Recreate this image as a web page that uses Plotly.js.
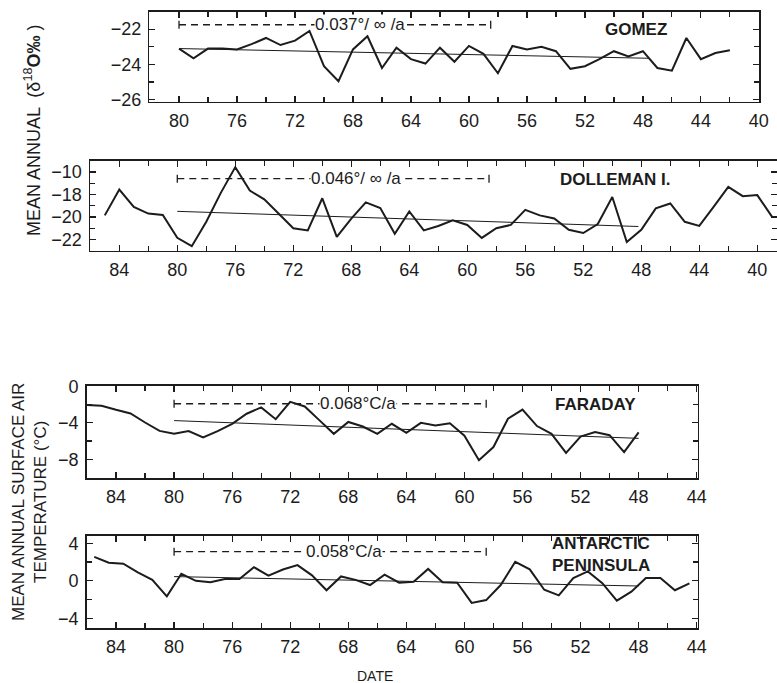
<!DOCTYPE html>
<html>
<head>
<meta charset="utf-8">
<script src="https://cdn.plot.ly/plotly-3.0.1.min.js"></script>
<style>
  html, body { margin: 0; padding: 0; background: #ffffff; }
  #chart { width: 777px; height: 683px; }
</style>
</head>
<body>
<div id="chart"></div>
<script>
// ---------------- DATA ----------------
// Years are 19xx, axis runs from recent (left) to older (right)
const gomezYears = [80,79,78,77,76,75,74,73,72,71,70,69,68,67,66,65,64,63,62,61,60,59,58,57,56,55,54,53,52,51,50,49,48,47,46,45,44,43,42];
const gomezValues = [-23.1,-23.65,-23.1,-23.1,-23.15,-22.85,-22.5,-22.9,-22.65,-22.1,-24.1,-24.95,-23.15,-22.4,-24.2,-23.05,-23.7,-23.95,-23.05,-23.85,-22.95,-23.4,-24.5,-22.95,-23.15,-23.0,-23.25,-24.25,-24.1,-23.7,-23.25,-23.55,-23.25,-24.2,-24.35,-22.5,-23.7,-23.35,-23.2];
const gomezTrendYears = [80, 47.6];
const gomezTrendValues = [-23.1, -23.65];

const dollemanYears = [85,84,83,82,81,80,79,78,77,76,75,74,73,72,71,70,69,68,67,66,65,64,63,62,61,60,59,58,57,56,55,54,53,52,51,50,49,48,47,46,45,44,43,42,41,40,39];
const dollemanValues = [-19.86,-17.57,-19.1,-19.7,-19.83,-21.86,-22.6,-20.43,-17.86,-15.57,-17.66,-18.43,-19.71,-21.0,-21.2,-18.34,-21.77,-20.14,-18.71,-19.2,-21.49,-19.51,-21.2,-20.8,-20.29,-20.71,-21.86,-21.0,-20.71,-19.37,-19.86,-20.14,-21.14,-21.43,-20.63,-18.23,-22.23,-21.14,-19.24,-18.8,-20.43,-20.8,-19.09,-17.32,-18.15,-18.06,-19.95];
const dollemanTrendYears = [80, 48.2];
const dollemanTrendValues = [-19.5, -20.85];

const faradayYears = [86,85,84,83,82,81,80,79,78,77,76,75,74,73,72,71,70,69,68,67,66,65,64,63,62,61,60,59,58,57,56,55,54,53,52,51,50,49,48];
const faradayValues = [-2.05,-2.13,-2.57,-2.97,-3.96,-4.88,-5.2,-4.9,-5.6,-4.9,-4.1,-3.0,-2.3,-3.6,-1.7,-2.2,-3.7,-5.2,-3.9,-4.4,-5.2,-4.1,-5.1,-4.0,-4.3,-4.05,-5.4,-8.1,-6.65,-3.55,-2.55,-4.35,-5.2,-7.3,-5.5,-5.0,-5.35,-7.2,-5.05];
const faradayTrendYears = [80, 48];
const faradayTrendValues = [-3.75, -5.7];

const peninsulaYears = [85.5,84.5,83.5,82.5,81.5,80.5,79.5,78.5,77.5,76.5,75.5,74.5,73.5,72.5,71.5,70.5,69.5,68.5,67.5,66.5,65.5,64.5,63.5,62.5,61.5,60.5,59.5,58.5,57.5,56.5,55.5,54.5,53.5,52.5,51.5,50.5,49.5,48.5,47.5,46.5,45.5,44.5];
const peninsulaValues = [2.55,1.93,1.82,0.9,0.1,-1.65,0.75,0.0,-0.15,0.2,0.2,1.45,0.55,1.2,1.67,0.58,-1.0,0.47,0.1,-0.45,0.65,-0.2,-0.1,1.27,-0.15,-0.2,-2.35,-2.05,-0.45,2.03,1.22,-0.95,-1.55,0.3,1.0,-0.25,-2.1,-1.15,0.3,0.3,-1.0,-0.28];
const peninsulaTrendYears = [80, 48];
const peninsulaTrendValues = [0.45, -0.55];

// tick labels
const xTicksGomez = [80,76,72,68,64,60,56,52,48,44,40];
const xTicksDolleman = [84,80,76,72,68,64,60,56,52,48,44,40];
const xTicksLower = [84,80,76,72,68,64,60,56,52,48,44];
const yTicksGomez = [-22,-24,-26];
const yTicksDolleman = [-22,-20,-18,-16];
const yTickTextDolleman = ['\u221222','\u221220','\u221218','\u221210'];
const yTicksFaraday = [0,-4,-8];
const yTicksPeninsula = [4,0,-4];

// trend annotations
const slopeLabels = ['0.037°/ ∞ /a', '0.046°/ ∞ /a', '0.068°C/a', '0.058°C/a'];
const slopeSpanYears = [80, 58.5];
const slopeLabelYears = [67.5, 67.7, 67.3, 68.3];
const slopeLabelValues = [-21.75, -16.6, -1.9, 3.1];
const stationNames = ['GOMEZ', 'DOLLEMAN I.', 'FARADAY', 'ANTARCTIC<br>PENINSULA'];
const stationYears = [48.5, 49.8, 51.0, 50.6];
const stationValues = [-22.0, -16.7, -1.95, 2.75];

// ---------------- STYLE ----------------
const FONT = 'Liberation Sans, Arial, Helvetica, sans-serif';
const INK = '#1c1c1c';
const W = 777, H = 683;

function px(x) { return x / W; }
function py(y) { return 1 - y / H; }

function dataTrace(x, y, n) {
  return { x: x, y: y, xaxis: 'x' + (n === 1 ? '' : n), yaxis: 'y' + (n === 1 ? '' : n),
           type: 'scatter', mode: 'lines', line: { color: INK, width: 2 }, hoverinfo: 'skip' };
}
function trendTrace(x, y, n) {
  return { x: x, y: y, xaxis: 'x' + (n === 1 ? '' : n), yaxis: 'y' + (n === 1 ? '' : n),
           type: 'scatter', mode: 'lines', line: { color: INK, width: 1 }, hoverinfo: 'skip' };
}

const traces = [
  dataTrace(gomezYears, gomezValues, 1), trendTrace(gomezTrendYears, gomezTrendValues, 1),
  dataTrace(dollemanYears, dollemanValues, 2), trendTrace(dollemanTrendYears, dollemanTrendValues, 2),
  dataTrace(faradayYears, faradayValues, 3), trendTrace(faradayTrendYears, faradayTrendValues, 3),
  dataTrace(peninsulaYears, peninsulaValues, 4), trendTrace(peninsulaTrendYears, peninsulaTrendValues, 4)
];

function xAxis(domain, range, ticks, anchor) {
  return {
    domain: domain, range: range, anchor: anchor,
    showline: true, linecolor: INK, linewidth: 1.5, mirror: 'ticks',
    showgrid: false, zeroline: false,
    tickmode: 'array', tickvals: ticks, ticktext: ticks.map(String),
    ticks: 'inside', ticklen: 6, tickwidth: 1.2, tickcolor: INK,
    minor: { dtick: 2, tick0: 0, ticks: 'inside', ticklen: 5, tickwidth: 1.2, tickcolor: INK, showgrid: false },
    tickfont: { family: FONT, size: 18, color: INK },
    ticklabelstandoff: 2,
    fixedrange: true
  };
}
function yAxis(domain, range, ticks, text, minorDtick, anchor) {
  return {
    domain: domain, range: range, anchor: anchor,
    showline: true, linecolor: INK, linewidth: 1.5, mirror: 'ticks',
    showgrid: false, zeroline: false,
    tickmode: 'array', tickvals: ticks, ticktext: text,
    ticks: 'inside', ticklen: 6, tickwidth: 1.2, tickcolor: INK,
    minor: { dtick: minorDtick, tick0: 0, ticks: 'inside', ticklen: 5, tickwidth: 1.2, tickcolor: INK, showgrid: false },
    tickfont: { family: FONT, size: 18, color: INK },
    ticklabelstandoff: 3,
    fixedrange: true
  };
}
const fmt = v => (v < 0 ? '\u2212' + Math.abs(v) : String(v));

const layout = {
  width: W, height: H,
  margin: { l: 0, r: 0, t: 0, b: 0 },
  paper_bgcolor: '#ffffff', plot_bgcolor: '#ffffff',
  showlegend: false,
  font: { family: FONT, color: INK },
  xaxis:  xAxis([px(149.3), px(759.3)], [82.05, 39.97], xTicksGomez, 'y'),
  yaxis:  yAxis([py(101.5), py(11.5)], [-26.1, -21.0], yTicksGomez, yTicksGomez.map(fmt), 1, 'x'),
  xaxis2: xAxis([px(90), 1], [86.02, 38.64], xTicksDolleman, 'y2'),
  yaxis2: yAxis([py(250.7), py(160.7)], [-23.0, -15.0], yTicksDolleman, yTickTextDolleman, 1, 'x2'),
  xaxis3: xAxis([px(86.7), px(697.7)], [86.02, 43.93], xTicksLower, 'y3'),
  yaxis3: yAxis([py(478), py(385.5)], [-10.05, 0.1], yTicksFaraday, yTicksFaraday.map(fmt), 2, 'x3'),
  xaxis4: xAxis([px(86.7), px(697.7)], [86.02, 43.93], xTicksLower, 'y4'),
  yaxis4: yAxis([py(628.3), py(535.7)], [-5.05, 4.8], yTicksPeninsula, yTicksPeninsula.map(fmt), 2, 'x4'),
  shapes: [],
  annotations: []
};

const refs = [['x','y'],['x2','y2'],['x3','y3'],['x4','y4']];
refs.forEach(function (r, i) {
  const yv = slopeLabelValues[i];
  layout.shapes.push({ type: 'line', xref: r[0], yref: r[1], x0: slopeSpanYears[0], x1: slopeSpanYears[1], y0: yv, y1: yv,
                       line: { color: INK, width: 1.3, dash: '7px,5px' } });
  slopeSpanYears.forEach(function (xv) {
    layout.shapes.push({ type: 'line', xref: r[0], yref: r[1], ysizemode: 'pixel', yanchor: yv,
                         x0: xv, x1: xv, y0: -4, y1: 4, line: { color: INK, width: 1.3 } });
  });
  layout.annotations.push({ xref: r[0], yref: r[1], x: slopeLabelYears[i], y: yv, text: slopeLabels[i],
                            xanchor: 'center', yanchor: 'middle',
                            showarrow: false, bgcolor: '#ffffff', borderpad: 0,
                            font: { family: FONT, size: 17, color: INK } });
  layout.annotations.push({ xref: r[0], yref: r[1], x: stationYears[i], y: stationValues[i], text: '<b>' + stationNames[i] + '</b>',
                            xanchor: 'center', yanchor: 'middle',
                            showarrow: false, align: 'left',
                            font: { family: FONT, size: 17, color: INK, weight: 700 } });
});

// axis titles
layout.annotations.push({ xref: 'paper', yref: 'paper', x: px(33), y: py(131), textangle: -90,
  xanchor: 'center', yanchor: 'middle',
  text: 'MEAN ANNUAL  (δ<sup>18</sup><b>O‰</b> )', showarrow: false,
  font: { family: FONT, size: 18, color: INK } });
layout.annotations.push({ xref: 'paper', yref: 'paper', x: px(29), y: py(502), textangle: -90,
  xanchor: 'center', yanchor: 'middle',
  text: 'MEAN ANNUAL SURFACE AIR<br>TEMPERATURE (°C)', showarrow: false,
  font: { family: FONT, size: 17, color: INK } });
layout.annotations.push({ xref: 'paper', yref: 'paper', x: px(375), y: py(676),
  xanchor: 'center', yanchor: 'middle',
  text: 'DATE', showarrow: false, font: { family: FONT, size: 14, color: INK } });

Plotly.newPlot('chart', traces, layout, { staticPlot: true, displayModeBar: false });
</script>
</body>
</html>
